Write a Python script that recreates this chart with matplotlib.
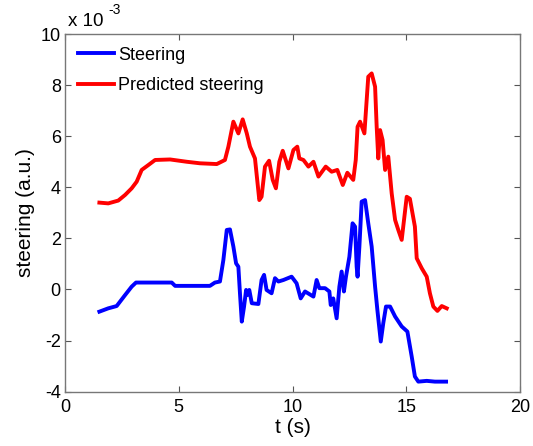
import numpy as np
import matplotlib
matplotlib.use("Agg")
import matplotlib.pyplot as plt

plt.rcParams['font.family'] = ['Liberation Sans', 'DejaVu Sans']
plt.rcParams['axes.unicode_minus'] = False

# steering signal (units of 1e-3)
t_steer = [1.51, 1.90, 2.27, 2.64, 2.93, 3.12, 4.69, 4.84, 6.37, 6.59, 6.81, 6.96,
           7.11, 7.25, 7.40, 7.52, 7.62, 7.69, 7.77, 7.87, 7.96, 8.01, 8.10, 8.21,
           8.50, 8.64, 8.75, 8.86, 9.08, 9.23, 9.38, 9.60, 9.96, 10.18, 10.36, 10.55,
           10.92, 11.06, 11.18, 11.43, 11.62, 11.68, 11.79, 11.94, 12.06, 12.16, 12.26,
           12.35, 12.50, 12.64, 12.75, 12.82, 12.86, 12.94, 13.04, 13.19, 13.33, 13.48,
           13.63, 13.73, 13.88, 13.99, 14.11, 14.29, 14.51, 14.80, 15.05, 15.24, 15.38,
           15.53, 15.90, 16.26, 16.75]
steering = [-0.87, -0.74, -0.65, -0.22, 0.11, 0.27, 0.27, 0.14, 0.14, 0.27, 0.31, 1.15,
            2.33, 2.35, 1.68, 1.02, 0.89, -0.15, -1.26, -0.67, -0.02, -0.22, -0.02, -0.54,
            -0.57, 0.37, 0.57, -0.02, -0.15, 0.44, 0.31, 0.37, 0.50, 0.24, -0.35, -0.08,
            -0.28, 0.37, 0.05, 0.05, -0.08, -0.61, -0.35, -1.13, 0.11, 0.70, -0.08,
            0.50, 1.28, 2.59, 2.46, 0.89, 0.50, 1.68, 3.44, 3.50, 2.59, 1.68,
            0.11, -0.80, -2.04, -1.32, -0.67, -0.67, -1.06, -1.45, -1.65, -2.63, -3.41,
            -3.61, -3.58, -3.61, -3.61]

# predicted steering
t_pred = [1.51, 1.90, 2.34, 2.64, 2.93, 3.15, 3.37, 3.66, 3.96, 4.62, 5.35, 5.93, 6.67,
          7.03, 7.18, 7.40, 7.62, 7.81, 7.99, 8.13, 8.35, 8.54, 8.64, 8.79, 8.97, 9.13,
          9.27, 9.42, 9.57, 9.82, 10.04, 10.21, 10.30, 10.48, 10.70, 10.92, 11.14, 11.46,
          11.72, 11.97, 12.21, 12.41, 12.67, 12.78, 12.86, 12.97, 13.16, 13.33, 13.48,
          13.63, 13.70, 13.77, 13.85, 13.96, 14.07, 14.21, 14.36, 14.51, 14.65, 14.80,
          15.02, 15.16, 15.38, 15.46, 15.68, 15.90, 16.04, 16.19, 16.37, 16.56, 16.78]
predicted = [3.40, 3.37, 3.48, 3.70, 3.96, 4.22, 4.68, 4.87, 5.07, 5.09, 5.00, 4.94, 4.91,
             5.07, 5.59, 6.57, 6.11, 6.66, 6.11, 5.59, 5.13, 3.50, 3.63, 4.81, 5.04, 4.29,
             3.96, 5.00, 5.43, 4.74, 5.46, 5.59, 5.13, 5.07, 4.81, 5.00, 4.42, 4.81,
             4.61, 4.68, 4.09, 4.57, 4.29, 5.07, 6.37, 6.57, 6.11, 8.33, 8.46,
             7.94, 6.37, 5.13, 6.24, 5.85, 4.68, 5.20, 3.76, 2.72, 2.33, 1.94,
             3.63, 3.55, 2.46, 1.22, 0.83, 0.50, -0.15, -0.67, -0.84, -0.65, -0.74]

fig = plt.figure(figsize=(5.33, 4.46), dpi=100)
ax = fig.add_axes([0.122, 0.122, 0.8536, 0.8016])

ax.plot(t_steer, steering, color='#0000ff', lw=2.8, label='Steering')
ax.plot(t_pred, predicted, color='#ff0000', lw=2.8, label='Predicted steering')

ax.set_xlim(0, 20)
ax.set_ylim(-4, 10)
ax.set_xticks([0, 5, 10, 15, 20])
ax.set_yticks([-4, -2, 0, 2, 4, 6, 8, 10])
ax.tick_params(direction='in', top=True, right=True, labelsize=13, length=4,
               color='#555555')
ax.tick_params(axis='x', pad=5)
ax.tick_params(axis='y', pad=3)
for s in ax.spines.values():
    s.set_color('#777777')
    s.set_linewidth(1.0)

ax.set_xlabel('t (s)', fontsize=15, labelpad=2)
ax.set_ylabel('steering (a.u.)', fontsize=15, labelpad=4)

fig.text(0.127, 0.933, 'x 10', fontsize=13.5, ha='left', va='bottom')
fig.text(0.203, 0.962, '-3', fontsize=10, ha='left', va='bottom')

ax.legend(loc='upper left', frameon=False, fontsize=13, handlelength=2.0,
          handletextpad=0.25, borderaxespad=0.3, labelspacing=0.75)

fig.savefig('out.png', dpi=100)
